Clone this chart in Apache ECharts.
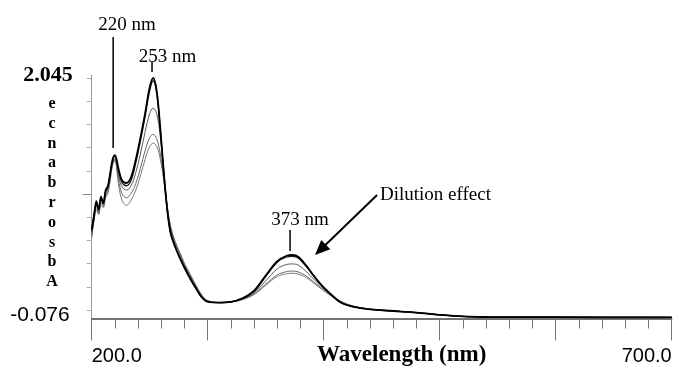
<!DOCTYPE html>
<html>
<head>
<meta charset="utf-8">
<script src="https://cdn.jsdelivr.net/npm/echarts@6/dist/echarts.min.js"></script>
<style>
html,body{margin:0;padding:0;background:#fff;}
#chart{width:683px;height:367px;}
</style>
</head>
<body>
<div id="chart"></div>
<script>
// ---- data ----
const wavelengths = [200,202,204,206,208,210,212,214,216,218,
  220,223,226,230,234,238,242,246,250,253,
  256,259,262,265,268,272,276,280,285,290,
  295,300,310,320,330,340,350,360,368,373,
  378,385,392,400,408,415,425,440,460,480,
  500,520,540,600,700];

const absorbance1 = [0.66,0.78,0.92,0.84,0.96,0.90,1.02,1.06,1.18,1.30,
  1.34,1.22,1.11,1.085,1.14,1.30,1.50,1.72,1.96,2.045,
  1.93,1.60,1.20,0.85,0.63,0.50,0.40,0.31,0.21,0.12,
  0.04,0.00,-0.008,-0.002,0.03,0.10,0.24,0.37,0.42,0.427,
  0.41,0.33,0.23,0.13,0.05,-0.01,-0.045,-0.07,-0.085,-0.10,
  -0.12,-0.135,-0.14,-0.142,-0.143];

const absorbance2 = [0.64,0.80,0.88,0.86,0.93,0.92,1.00,1.05,1.17,1.29,
  1.33,1.20,1.09,1.06,1.11,1.27,1.47,1.69,1.93,2.02,
  1.91,1.59,1.20,0.85,0.63,0.50,0.40,0.31,0.21,0.12,
  0.04,0.00,-0.008,-0.002,0.03,0.095,0.23,0.36,0.41,0.415,
  0.40,0.32,0.225,0.128,0.05,-0.01,-0.045,-0.07,-0.086,-0.10,
  -0.12,-0.135,-0.14,-0.142,-0.143];

const absorbance3 = [0.62,0.75,0.90,0.80,0.94,0.87,0.99,1.03,1.15,1.27,
  1.31,1.16,1.05,1.02,1.06,1.18,1.35,1.55,1.72,1.77,
  1.72,1.52,1.20,0.88,0.66,0.52,0.42,0.33,0.23,0.13,
  0.05,0.005,-0.008,-0.002,0.025,0.08,0.19,0.30,0.34,0.345,
  0.335,0.275,0.20,0.12,0.05,0.0,-0.04,-0.068,-0.085,-0.10,
  -0.12,-0.135,-0.14,-0.142,-0.143];

const absorbance4 = [0.60,0.77,0.86,0.82,0.90,0.89,0.97,1.01,1.13,1.26,
  1.30,1.12,0.99,0.95,0.99,1.08,1.22,1.38,1.50,1.53,
  1.49,1.36,1.14,0.88,0.68,0.54,0.44,0.34,0.24,0.14,
  0.05,0.005,-0.008,-0.002,0.02,0.07,0.16,0.245,0.275,0.28,
  0.272,0.235,0.175,0.11,0.045,0.0,-0.04,-0.068,-0.085,-0.10,
  -0.12,-0.135,-0.14,-0.142,-0.143];

const absorbance5 = [0.58,0.74,0.84,0.80,0.88,0.86,0.95,0.99,1.11,1.25,
  1.29,1.08,0.93,0.88,0.93,1.02,1.15,1.30,1.42,1.45,
  1.42,1.31,1.12,0.88,0.69,0.55,0.45,0.35,0.25,0.15,
  0.06,0.01,-0.008,-0.002,0.02,0.065,0.15,0.23,0.255,0.26,
  0.252,0.22,0.165,0.10,0.04,0.0,-0.04,-0.068,-0.085,-0.10,
  -0.12,-0.135,-0.14,-0.142,-0.143];

const xTickLabels = [200, 700];
const yTickLabels = [2.045, -0.076];
const xAxisTitle = 'Wavelength (nm)';
const yAxisTitle = 'Absorbance';
const peakLabels = ['220 nm', '253 nm', '373 nm'];
const noteLabel = 'Dilution effect';

// ---- chart ----
const SERIF = 'Liberation Serif';
const SANS = 'Liberation Sans';
const Y_MIN = -0.1537, Y_MAX = 2.0724;
const yStep = (yTickLabels[0] - yTickLabels[1]) / 10;
const yTicks = [];
for (let k = 0; k <= 10; k++) yTicks.push(+(yTickLabels[1] + k * yStep).toFixed(5));

function pairs(ys) { return wavelengths.map((w, i) => [w, ys[i]]); }

const seriesDefs = [
  {data: absorbance5, color: '#7a7a7a', width: 1},
  {data: absorbance4, color: '#6a6a6a', width: 1},
  {data: absorbance3, color: '#5a5a5a', width: 1},
  {data: absorbance2, color: '#222', width: 1.3},
  {data: absorbance1, color: '#000', width: 1.8}
];

const chart = echarts.init(document.getElementById('chart'), null, {renderer: 'canvas'});

const option = {
  animation: false,
  backgroundColor: '#fff',
  grid: {left: 91.7, right: 11.3, top: 75, bottom: 48.5, containLabel: false, outerBoundsMode: 'none'},
  xAxis: {
    type: 'value', min: 200, max: 700, interval: 100,
    axisLine: {show: true, onZero: false, lineStyle: {color: '#444', width: 1.5}},
    axisTick: {show: true, length: 22, lineStyle: {color: '#777', width: 1}},
    minorTick: {show: true, splitNumber: 5, length: 10, lineStyle: {color: '#777', width: 1}},
    splitLine: {show: false},
    axisLabel: {
      customValues: xTickLabels, margin: 28,
      fontFamily: SANS, fontSize: 20, color: '#000',
      alignMinLabel: 'left', alignMaxLabel: 'right',
      formatter: v => v.toFixed(1)
    },
    name: xAxisTitle, nameLocation: 'middle', nameGap: 25, nameMoveOverlap: false,
    nameTextStyle: {fontFamily: SERIF, fontWeight: 'bold', fontSize: 23, color: '#000', padding: [0, 0, 0, 40]}
  },
  yAxis: [{
    type: 'value', min: Y_MIN, max: Y_MAX,
    axisLine: {show: true, lineStyle: {color: '#999', width: 1}},
    axisTick: {show: true, customValues: yTicks, length: 5, lineStyle: {color: '#aaa'}},
    splitLine: {show: false},
    axisLabel: {
      customValues: yTickLabels, margin: 19, color: '#000',
      formatter: v => (v > 1 ? '{a|' + yTickLabels[0].toFixed(3) + '}' : '{b|' + yTickLabels[1].toFixed(3) + '}'),
      rich: {
        a: {fontFamily: SERIF, fontWeight: 'bold', fontSize: 22, color: '#000', padding: [0, 0, 5, 0]},
        b: {fontFamily: SANS, fontSize: 21, color: '#000', padding: [10, 3, 0, 0]}
      }
    }
  }, {
    type: 'value', min: Y_MIN, max: Y_MAX, position: 'left',
    axisLine: {show: false},
    axisTick: {show: true, customValues: [yTicks[5]], length: 9, lineStyle: {color: '#888'}},
    axisLabel: {show: false}, splitLine: {show: false}
  }],
  series: seriesDefs.map(s => ({
    type: 'line', data: pairs(s.data), showSymbol: false, symbol: 'none',
    smooth: 0.35, clip: false,
    lineStyle: {color: s.color, width: s.width}
  }))
};
chart.setOption(option);

// annotations placed in data coordinates
const P = (x, y) => chart.convertToPixel({gridIndex: 0}, [x, y]);
const ann = [
  {label: peakLabels[0], line: [[218.5, 1.405], [218.5, 2.42]], text: [230.4, 2.525]},
  {label: peakLabels[1], line: [[252, 2.100], [252, 2.191]], text: [265.3, 2.237]},
  {label: peakLabels[2], line: [[371, 0.464], [371, 0.655]], text: [379.6, 0.745]}
];
const graphics = [];
ann.forEach(a => {
  const p1 = P(a.line[0][0], a.line[0][1]), p2 = P(a.line[1][0], a.line[1][1]);
  graphics.push({type: 'line', shape: {x1: p1[0], y1: p1[1], x2: p2[0], y2: p2[1]}, style: {stroke: '#000', lineWidth: 1.5}});
  const t = P(a.text[0], a.text[1]);
  graphics.push({type: 'text', x: t[0], y: t[1], style: {text: a.label, fontFamily: SERIF, fontSize: 19, fill: '#000', align: 'center', verticalAlign: 'middle'}});
});
// Dilution effect arrow
const aStart = P(446, 0.976), aTip = P(392.5, 0.427);
const dx = aTip[0] - aStart[0], dy = aTip[1] - aStart[1];
const len = Math.hypot(dx, dy), ux = dx / len, uy = dy / len;
const headL = 15, headW = 6.5;
const bx = aTip[0] - ux * headL, by = aTip[1] - uy * headL;
graphics.push({type: 'line', shape: {x1: aStart[0], y1: aStart[1], x2: bx + ux * 2, y2: by + uy * 2}, style: {stroke: '#000', lineWidth: 2}});
graphics.push({type: 'polygon', shape: {points: [aTip, [bx - uy * headW, by + ux * headW], [bx + uy * headW, by - ux * headW]]}, style: {fill: '#000'}});
const nt = P(448.5, 0.975);
graphics.push({type: 'text', x: nt[0], y: nt[1], style: {text: noteLabel, fontFamily: SERIF, fontSize: 19, fill: '#000', align: 'left', verticalAlign: 'middle'}});
// vertical, reversed-letter y-axis title
const yt = P(200, 0.994);
graphics.push({type: 'text', x: 52, y: yt[1], style: {
  text: yAxisTitle.split('').reverse().join('\n'), fontFamily: SERIF, fontWeight: 'bold', fontSize: 16,
  lineHeight: 19.8, fill: '#000', align: 'center', verticalAlign: 'middle'}});
chart.setOption({graphic: graphics});
</script>
</body>
</html>
